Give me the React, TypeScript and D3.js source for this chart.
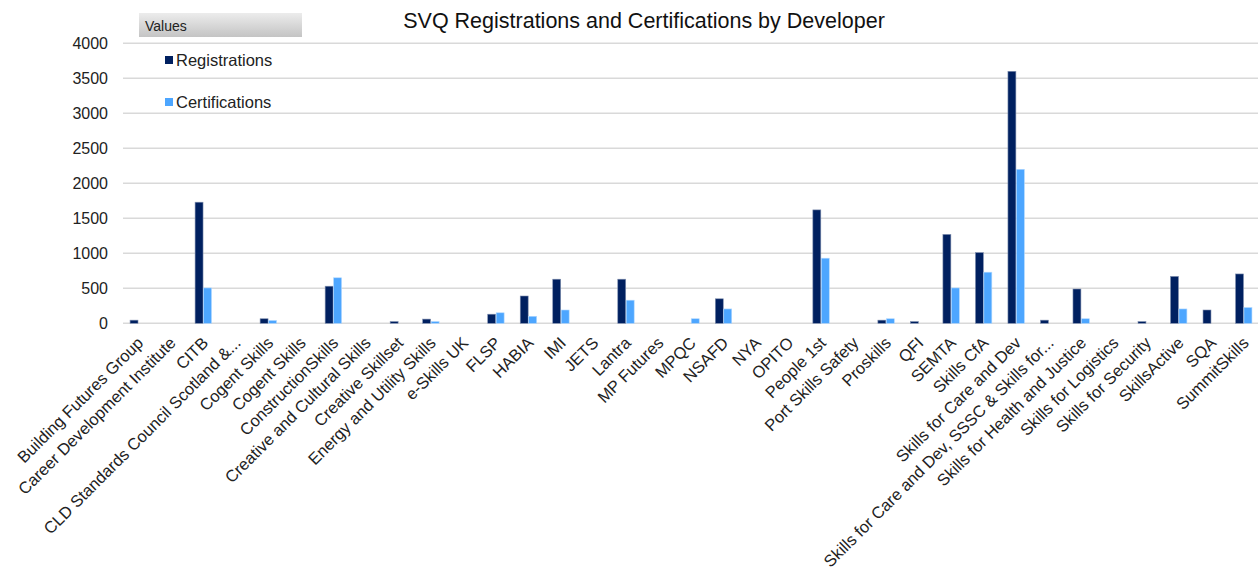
import React from "react";
import * as d3 from "d3";

const categories: string[] = [
  "Building Futures Group",
  "Career Development Institute",
  "CITB",
  "CLD Standards Council Scotland &...",
  "Cogent Skills",
  "Cogent Skills",
  "ConstructionSkills",
  "Creative and Cultural Skills",
  "Creative Skillset",
  "Energy and Utility Skills",
  "e-Skills UK",
  "FLSP",
  "HABIA",
  "IMI",
  "JETS",
  "Lantra",
  "MP Futures",
  "MPQC",
  "NSAFD",
  "NYA",
  "OPITO",
  "People 1st",
  "Port Skills Safety",
  "Proskills",
  "QFI",
  "SEMTA",
  "Skills CfA",
  "Skills for Care and Dev",
  "Skills for Care and Dev, SSSC & Skills for...",
  "Skills for Health and Justice",
  "Skills for Logistics",
  "Skills for Security",
  "SkillsActive",
  "SQA",
  "SummitSkills",
];

const registrations: number[] = [
  45, 0, 1730, 0, 65, 0, 530, 0, 25, 60, 0, 130, 390, 630, 0, 630, 0, 0, 350, 0,
  0, 1620, 0, 45, 25, 1270, 1010, 3600, 45, 490, 0, 25, 670, 190, 705,
];

const certifications: number[] = [
  0, 0, 505, 0, 40, 0, 650, 0, 0, 25, 0, 150, 100, 190, 0, 330, 0, 65, 205, 0,
  0, 930, 0, 65, 0, 505, 730, 2200, 0, 65, 0, 0, 205, 0, 225,
];

const yTicks: number[] = [0, 500, 1000, 1500, 2000, 2500, 3000, 3500, 4000];

const seriesNames: string[] = ["Registrations", "Certifications"];
const seriesColors: string[] = ["#002060", "#4da6ff"];
const title = "SVQ Registrations and Certifications by Developer";
const legendTitle = "Values";

const W = 1260;
const H = 571;
const FONT = "'Liberation Sans', Arial, sans-serif";

export default function App() {
  const x = d3
    .scaleBand<number>()
    .domain(d3.range(categories.length))
    .range([122, 1260])
    .paddingInner(0)
    .paddingOuter(0);
  const y = d3.scaleLinear().domain([0, 4000]).range([323.3, 43.3]);
  const x1 = d3
    .scaleBand<number>()
    .domain([0, 1])
    .range([-8.2, 8.2])
    .paddingInner(0.06);

  const seriesData = [registrations, certifications];
  const bw = x.bandwidth();

  return (
    <svg
      width={W}
      height={H}
      style={{ position: "absolute", left: 0, top: 0, background: "#fff" }}
      fontFamily={FONT}
    >
      <defs>
        <linearGradient id="legHead" x1="0" y1="0" x2="0" y2="1">
          <stop offset="0" stopColor="#ececec" />
          <stop offset="1" stopColor="#c4c4c4" />
        </linearGradient>
      </defs>
      <rect x={0} y={0} width={W} height={H} fill="#fff" />

      {/* gridlines */}
      {yTicks.map((t) => (
        <line
          key={"g" + t}
          x1={123}
          x2={1258}
          y1={y(t)}
          y2={y(t)}
          stroke="#d9d9d9"
          strokeWidth={1.5}
        />
      ))}

      {/* y tick labels */}
      {yTicks.map((t) => (
        <text
          key={"yt" + t}
          x={108}
          y={y(t)}
          dy="0.35em"
          textAnchor="end"
          fontSize={16}
          fill="#222"
        >
          {t}
        </text>
      ))}

      {/* bars */}
      {categories.map((c, i) =>
        seriesData.map((vals, s) => {
          const v = vals[i];
          if (!v) return null;
          const cx = (x(i) as number) + bw / 2;
          const bx = cx + (x1(s) as number);
          return (
            <rect
              key={`b${i}-${s}`}
              x={bx}
              y={y(v)}
              width={x1.bandwidth()}
              height={y(0) - y(v)}
              fill={seriesColors[s]}
              stroke={s === 0 ? "#8090b0" : "#b0d8ff"}
              strokeWidth={0.6}
            />
          );
        })
      )}

      {/* x labels */}
      {categories.map((c, i) => {
        const cx = (x(i) as number) + bw / 2;
        return (
          <text
            key={"xl" + i}
            transform={`translate(${cx + 6},${344}) rotate(-45)`}
            textAnchor="end"
            fontSize={16.5}
            fill="#222"
          >
            {c}
          </text>
        );
      })}

      {/* title */}
      <text x={644} y={28} textAnchor="middle" fontSize={21.5} fill="#111">
        {title}
      </text>

      {/* legend */}
      <rect x={139} y={13} width={163} height={24} fill="url(#legHead)" />
      <text x={145} y={31} fontSize={14} fill="#222">
        {legendTitle}
      </text>
      {seriesNames.map((n, s) => (
        <g key={"lg" + s} transform={`translate(165,${60 + s * 42})`}>
          <rect x={0} y={-4} width={8} height={8} fill={seriesColors[s]} />
          <text x={11} y={0} dy="0.35em" fontSize={16.5} fill="#222">
            {n}
          </text>
        </g>
      ))}
    </svg>
  );
}
